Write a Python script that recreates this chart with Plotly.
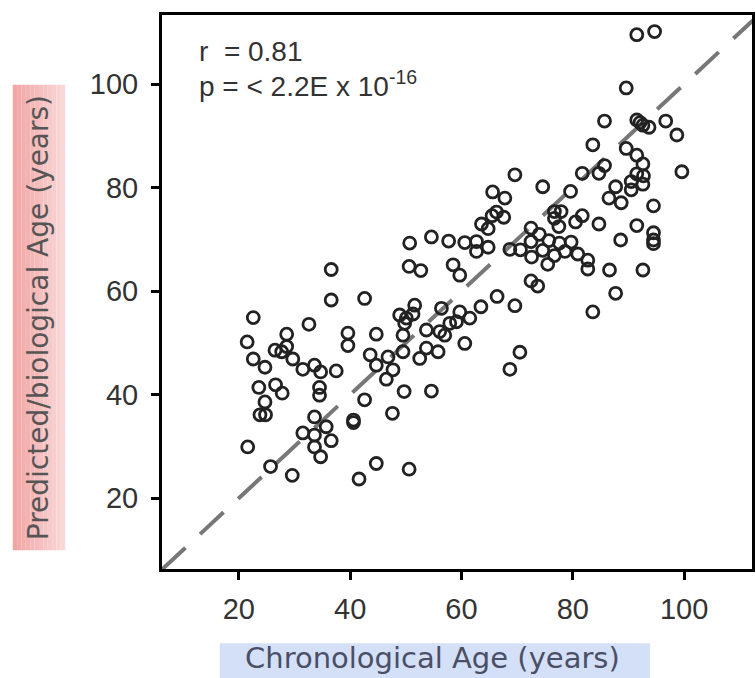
import plotly.graph_objects as go

# chronological vs predicted age
chrono_age = [
    22.6, 36.6, 42.6, 32.6, 21.5, 28.6, 39.6, 39.6, 44.7, 26.5, 27.7, 28.6,
    22.6, 24.7, 29.7, 31.5, 33.6, 34.7, 37.5, 43.6, 44.7, 46.8, 47.7, 46.5,
    23.6, 26.6, 27.8, 24.7, 23.8, 24.8, 34.5, 34.5, 42.6, 49.7, 54.6, 40.6,
    40.6, 47.6, 33.6, 35.7, 31.5, 33.6, 36.6, 33.6, 34.7, 21.6, 25.7, 29.6,
    41.6, 44.7, 50.6, 36.6,
    48.9, 50.1, 49.8, 51.3, 51.6, 56.4, 59.7, 63.5, 66.4, 61.5, 57.9, 59.1,
    53.7, 56.1, 57.0, 49.5, 60.6, 53.7, 55.8, 49.5, 52.5, 69.6, 70.5, 68.7,
    50.7, 54.6, 57.7, 60.6, 62.7, 62.7, 64.8, 50.6, 52.7, 58.5, 59.7, 68.7,
    70.6,
    69.6, 65.6, 67.8, 74.6, 79.6, 65.5, 67.6, 63.6, 64.8, 66.3, 76.7, 77.9,
    76.7, 77.5, 80.5, 81.7, 84.7, 91.5,
    72.5, 74.0, 72.5, 75.7, 77.6, 74.6, 76.7, 72.6, 75.5, 78.6, 79.7, 80.9,
    82.7, 82.7, 72.5, 73.7,
    91.5, 94.7, 89.6, 85.7, 91.5, 92.1, 92.6, 93.7, 96.7, 98.7, 83.6, 89.6,
    91.5, 92.6, 85.7, 84.7, 81.7, 91.5, 92.7, 90.5, 92.6, 99.6, 87.7, 90.5,
    86.5, 88.7, 94.5, 94.5, 94.5, 94.5, 88.6, 86.6, 92.6, 87.7, 83.6,
]
pred_age = [
    54.9, 58.3, 58.6, 53.6, 50.2, 51.7, 51.9, 49.5, 51.7, 48.6, 48.3, 49.3,
    46.9, 45.3, 46.9, 44.9, 45.7, 44.4, 44.6, 47.7, 45.7, 47.3, 44.8, 43.0,
    41.4, 41.9, 40.3, 38.6, 36.1, 36.1, 41.4, 39.9, 39.0, 40.6, 40.7, 35.1,
    34.6, 36.4, 35.7, 33.8, 32.6, 32.2, 31.1, 29.9, 28.0, 29.9, 26.1, 24.4,
    23.7, 26.7, 25.6, 64.2,
    55.4, 54.8, 53.8, 55.6, 57.3, 56.7, 56.0, 57.0, 59.0, 54.8, 53.8, 54.1,
    52.5, 52.2, 51.5, 51.5, 49.9, 49.0, 48.3, 48.3, 47.0, 57.2, 48.2, 44.9,
    69.3, 70.5, 69.7, 69.4, 69.6, 67.7, 68.5, 64.8, 64.0, 65.1, 63.1, 68.1,
    68.0,
    82.5, 79.2, 78.0, 80.2, 79.3, 74.6, 74.3, 73.0, 72.1, 75.3, 75.4, 75.4,
    74.1, 72.5, 73.4, 74.6, 73.0, 72.7,
    72.2, 71.0, 69.6, 69.8, 69.3, 67.9, 66.9, 66.6, 65.2, 67.7, 69.5, 67.2,
    66.0, 64.3, 62.0, 61.0,
    109.6, 110.2, 99.3, 92.9, 93.1, 92.6, 92.1, 91.7, 92.9, 90.2, 88.3, 87.6,
    86.3, 84.6, 84.3, 82.8, 82.8, 82.7, 82.3, 81.2, 80.7, 83.1, 80.2, 79.6,
    78.0, 77.1, 76.5, 71.3, 69.9, 69.2, 69.9, 64.1, 64.1, 59.6, 56.0,
]

tick_vals = [20, 40, 60, 80, 100]
x_range = [6.2, 112.2]
y_range = [6.3, 113.4]

fig = go.Figure()

# identity line (y = x) across the panel
lo = min(x_range[0], y_range[0])
hi = max(x_range[1], y_range[1])
fig.add_trace(go.Scatter(
    x=[lo, hi], y=[lo, hi], mode="lines",
    line=dict(color="#777777", width=4, dash="32px,20px"),
    hoverinfo="skip",
))

fig.add_trace(go.Scatter(
    x=chrono_age, y=pred_age, mode="markers",
    marker=dict(symbol="circle-open", size=12, color="#222222",
                line=dict(width=2.8, color="#222222")),
))

axis_common = dict(
    showline=True, linewidth=3, linecolor="black", mirror=True,
    ticks="outside", ticklen=8, tickwidth=2.5, tickcolor="black",
    tickvals=tick_vals, showgrid=False, zeroline=False, automargin=False,
    tickfont=dict(family="Liberation Sans", size=29, color="#333333"),
)

# pink gradient box behind the y title, darker on the left
shapes = []
n_strips = 12
x0, x1 = -0.253, -0.164
for i in range(n_strips):
    t = i / (n_strips - 1)
    r = 242 + int((250 - 242) * t)
    g = 165 + int((215 - 165) * t)
    b = 165 + int((215 - 165) * t)
    shapes.append(dict(
        type="rect", xref="paper", yref="paper",
        x0=x0 + (x1 - x0) * i / n_strips, x1=x0 + (x1 - x0) * (i + 1) / n_strips,
        y0=0.034, y1=0.874, line=dict(width=0),
        fillcolor=f"rgb({r},{g},{b})", layer="below",
    ))
# light blue box behind the x title
shapes.append(dict(
    type="rect", xref="paper", yref="paper",
    x0=0.098, x1=0.827, y0=-0.197, y1=-0.134,
    line=dict(width=0), fillcolor="#d4e0f7", layer="below",
))

fig.update_layout(
    width=756, height=678,
    margin=dict(l=162, r=4, t=15, b=109),
    plot_bgcolor="white", paper_bgcolor="white",
    showlegend=False,
    xaxis=dict(range=x_range, ticklabelstandoff=4, **axis_common),
    yaxis=dict(range=y_range, ticklabelstandoff=7, **axis_common),
    shapes=shapes,
    annotations=[
        dict(text="r  = 0.81", xref="paper", yref="paper", x=0.06, y=0.934,
             xanchor="left", yanchor="middle", showarrow=False,
             font=dict(family="Liberation Sans", size=28, color="#333333")),
        dict(text="p = < 2.2E x 10<sup>-16</sup>", xref="paper", yref="paper",
             x=0.06, y=0.876, xanchor="left", yanchor="middle", showarrow=False,
             font=dict(family="Liberation Sans", size=28, color="#333333")),
        dict(text="Predicted/biological Age (years)", xref="paper", yref="paper",
             x=-0.209, y=0.454, xanchor="center", yanchor="middle",
             textangle=-90, showarrow=False,
             font=dict(family="DejaVu Sans", size=28, color="#555555")),
        dict(text="Chronological Age (years)", xref="paper", yref="paper",
             x=0.458, y=-0.161, xanchor="center", yanchor="middle",
             showarrow=False,
             font=dict(family="DejaVu Sans", size=29, color="#4a4f66")),
    ],
)

# the page body has a default 8px margin; drop it so the figure sits at 0,0
fig.write_html("out.html", config={"displayModeBar": False},
               post_script="document.body.style.margin='0px';")
